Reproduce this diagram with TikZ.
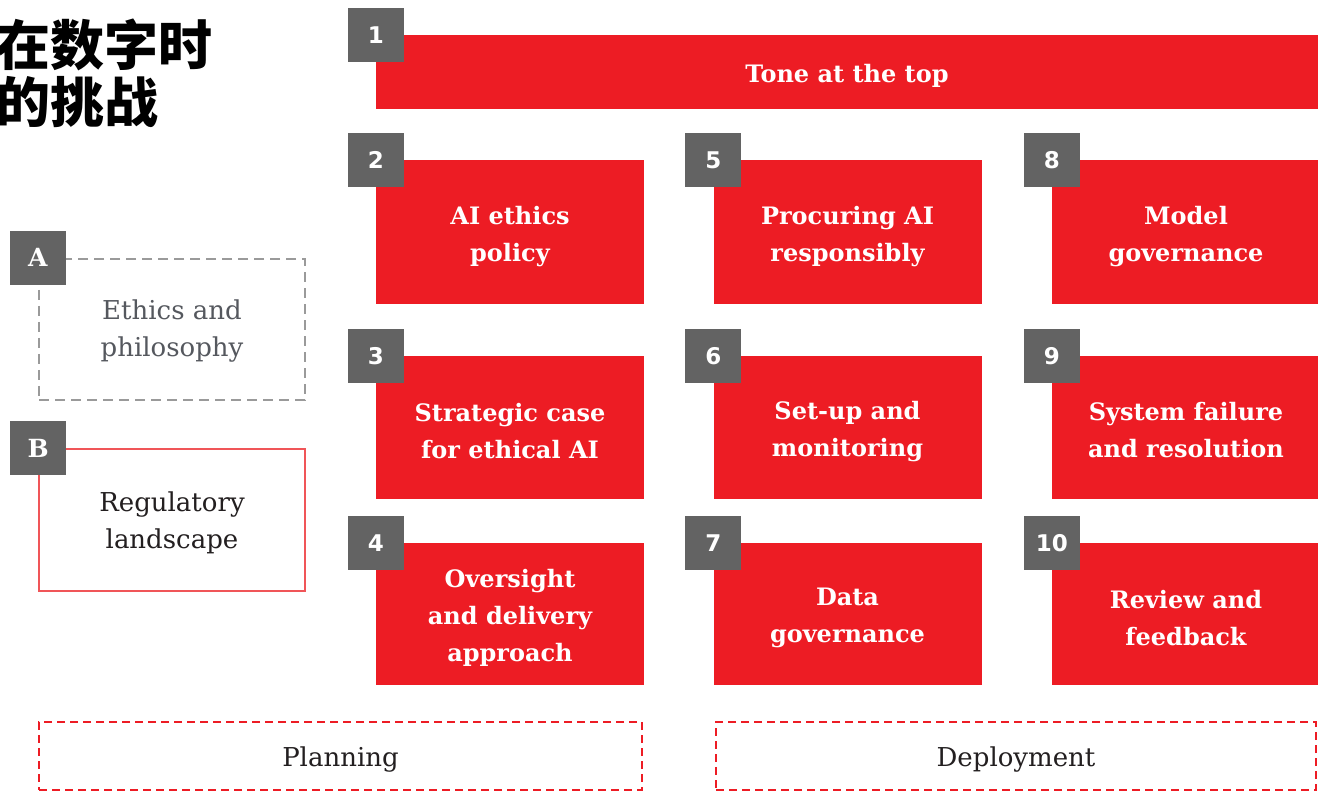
\documentclass[tikz,border=0pt]{standalone}
\usepackage{fontspec}
\setmainfont{DejaVu Serif}
\newfontfamily\cjkfont{Noto Sans CJK SC}
\newfontfamily\numfont{DejaVu Sans}
\definecolor{ared}{HTML}{ED1C24}
\definecolor{agray}{HTML}{636363}
\definecolor{dgray}{HTML}{9A9A9A}
\definecolor{bred}{HTML}{F05558}
\definecolor{txtgray}{HTML}{55585E}
\definecolor{txtdark}{HTML}{231F20}
\begin{document}
\begin{tikzpicture}[x=1pt,y=-1pt,
  redbox/.style={fill=ared, inner sep=0pt, minimum width=268pt, minimum height=143pt},
  whitetext/.style={text=white, font=\bfseries\fontsize{24}{37}\selectfont, align=center, inner sep=0pt},
  badge/.style={fill=agray, text=white, inner sep=0pt, minimum width=56pt, minimum height=54pt, font=\numfont\bfseries\fontsize{23}{23}\selectfont},
  letterbadge/.style={badge, font=\bfseries\fontsize{25}{25}\selectfont},
  ethicsbox/.style={draw=dgray, line width=2.5pt, dash pattern=on 10pt off 6pt, inner sep=0pt, minimum width=266pt, minimum height=141pt},
  regbox/.style={draw=bred, line width=1.5pt, inner sep=0pt, minimum width=266pt, minimum height=142pt},
  sidetext/.style={font=\fontsize{26}{37}\selectfont, align=center, inner sep=0pt},
  phasebox/.style={draw=ared, line width=2.5pt, dash pattern=on 8pt off 5pt, inner sep=0pt, minimum height=68pt},
  phasetext/.style={text=txtdark, font=\fontsize{26}{30}\selectfont, inner sep=0pt},
  titletext/.style={font=\cjkfont\bfseries\fontsize{54}{57}\selectfont, align=left, inner sep=0pt, anchor=north west}
]
\useasboundingbox (0,0) rectangle (1318,791);

% title
\node[titletext] (title) at (-4,19) {在数字时\\的挑战};

% bar 1
\node[redbox, minimum width=942pt, minimum height=74pt] (b1) at (847,72) {};
\node[whitetext] (t1) at ([yshift=-4pt]b1.center) {Tone at the top};
\node[badge] (n1) at (b1.north west) {1};

% column 1
\node[redbox, minimum height=144pt] (b2) at (510,232) {};
\node[whitetext] (t2) at ([yshift=-5pt]b2.center) {AI ethics\\policy};
\node[badge] (n2) at (b2.north west) {2};
\node[redbox] (b3) at (510,427.5) {};
\node[whitetext] (t3) at ([yshift=-4pt]b3.center) {Strategic case\\for ethical AI};
\node[badge] (n3) at (b3.north west) {3};
\node[redbox, minimum height=142pt] (b4) at (510,614) {};
\node[whitetext] (t4) at ([yshift=-4pt]b4.center) {Oversight\\and delivery\\approach};
\node[badge] (n4) at (b4.north west) {4};

% column 2
\node[redbox, minimum height=144pt] (b5) at (847.5,232) {};
\node[whitetext] (t5) at ([yshift=-5pt]b5.center) {Procuring AI\\responsibly};
\node[badge] (n5) at (b5.north west) {5};
\node[redbox] (b6) at (847.5,427.5) {};
\node[whitetext] (t6) at ([yshift=-4pt]b6.center) {Set-up and\\monitoring};
\node[badge] (n6) at (b6.north west) {6};
\node[redbox, minimum height=142pt] (b7) at (847.5,614) {};
\node[whitetext] (t7) at ([yshift=-4pt]b7.center) {Data\\governance};
\node[badge] (n7) at (b7.north west) {7};

% column 3
\node[redbox, minimum height=144pt] (b8) at (1186,232) {};
\node[whitetext] (t8) at ([yshift=-5pt]b8.center) {Model\\governance};
\node[badge] (n8) at (b8.north west) {8};
\node[redbox] (b9) at (1186,427.5) {};
\node[whitetext] (t9) at ([yshift=-3pt]b9.center) {System failure\\and resolution};
\node[badge] (n9) at (b9.north west) {9};
\node[redbox, minimum height=142pt] (b10) at (1186,614) {};
\node[whitetext] (t10) at ([yshift=-4pt]b10.center) {Review and\\feedback};
\node[badge] (n10) at (b10.north west) {10};

% A and B
\node[ethicsbox] (ba) at (172,329.5) {};
\node[sidetext, text=txtgray] (ta) at ([yshift=-2pt]ba.center) {Ethics and\\philosophy};
\node[letterbadge] (na) at (ba.north west) {A};
\node[regbox] (bb) at (172,520) {};
\node[sidetext, text=txtdark] (tb) at ([yshift=-3pt]bb.center) {Regulatory\\landscape};
\node[letterbadge] (nb) at (bb.north west) {B};

% phases
\node[phasebox, minimum width=603pt] (plan) at (340.5,756) {};
\node[phasetext] (tplan) at ([yshift=-4pt]plan.center) {Planning};
\node[phasebox, minimum width=600pt] (deploy) at (1016,756) {};
\node[phasetext] (tdeploy) at ([yshift=-4pt]deploy.center) {Deployment};
\end{tikzpicture}
\end{document}
